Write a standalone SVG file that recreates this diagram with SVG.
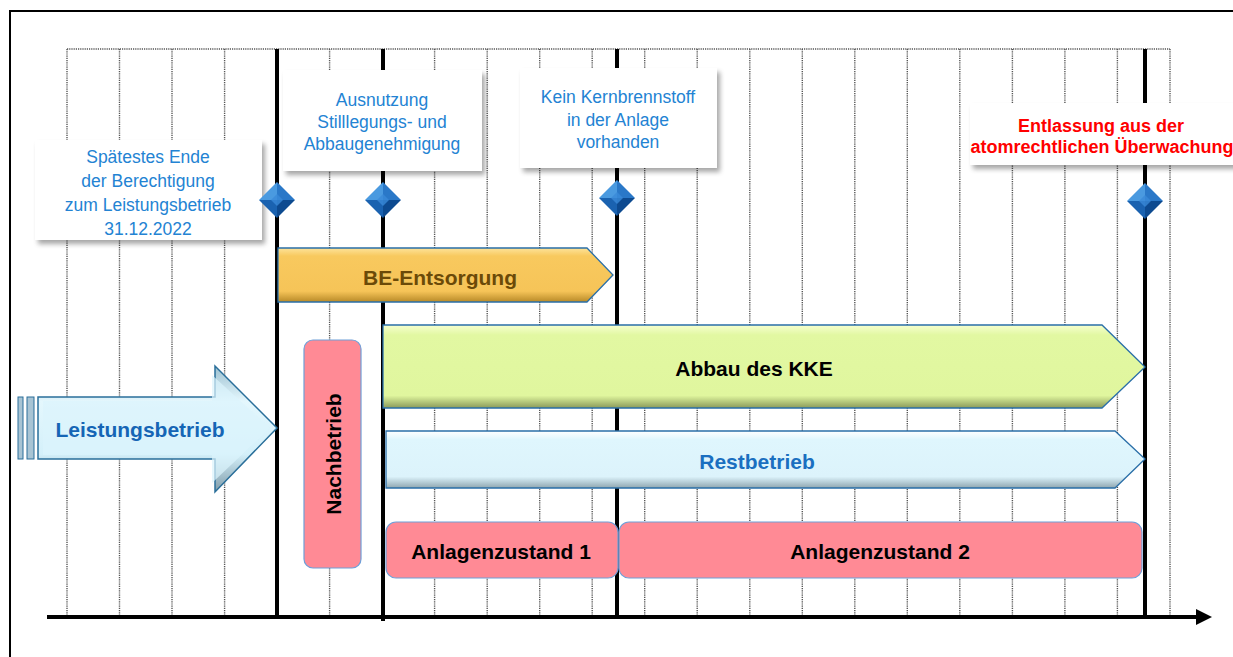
<svg xmlns="http://www.w3.org/2000/svg" width="1233" height="657" viewBox="0 0 1233 657">
<style>
.grid{stroke:#555;stroke-width:1.4;stroke-dasharray:1.2 1;fill:none}
.thick{stroke:#000;stroke-width:4}
.call{fill:#fff;filter:url(#sh)}
.ct{font-family:"Liberation Sans",Arial,sans-serif;font-size:17.5px;fill:#2383d3;text-anchor:middle}
.rt{font-family:"Liberation Sans",Arial,sans-serif;font-size:18px;font-weight:bold;fill:#ff0000;text-anchor:middle}
.bt{font-family:"Liberation Sans",Arial,sans-serif;font-size:21px;font-weight:bold;text-anchor:middle;dominant-baseline:central}
.pink{fill:#ff8a95;stroke:#6f9fd8;stroke-width:1.2}
</style>
<defs>
<filter id="sh" x="-10%" y="-20%" width="130%" height="150%">
<feGaussianBlur in="SourceAlpha" stdDeviation="2.5"/>
<feOffset dx="3" dy="4" result="b"/>
<feComponentTransfer><feFuncA type="linear" slope="0.35"/></feComponentTransfer>
<feMerge><feMergeNode/><feMergeNode in="SourceGraphic"/></feMerge>
</filter>
<linearGradient id="gBE" x1="0" y1="0" x2="0" y2="1">
<stop offset="0" stop-color="#fde39a"/><stop offset="0.15" stop-color="#f8c95e"/><stop offset="0.8" stop-color="#f6c458"/><stop offset="1" stop-color="#b88a28"/>
</linearGradient>
<linearGradient id="gGr" x1="0" y1="0" x2="0" y2="1">
<stop offset="0" stop-color="#f6ffd0"/><stop offset="0.12" stop-color="#e2f8a2"/><stop offset="0.85" stop-color="#e0f69e"/><stop offset="1" stop-color="#8a9a5a"/>
</linearGradient>
<linearGradient id="gRe" x1="0" y1="0" x2="0" y2="1">
<stop offset="0" stop-color="#ffffff"/><stop offset="0.15" stop-color="#dff6fd"/><stop offset="0.8" stop-color="#dcf3fb"/><stop offset="1" stop-color="#8fa6b0"/>
</linearGradient>
<linearGradient id="gLe" x1="0" y1="0" x2="0" y2="1">
<stop offset="0" stop-color="#9cc0d0"/><stop offset="0.28" stop-color="#e4f7fd"/><stop offset="0.7" stop-color="#d4f0fa"/><stop offset="1" stop-color="#7e9aa8"/>
</linearGradient>
<g id="dia">
<polygon points="0,-18 -18,0 0,0" fill="#4a9ae0"/>
<polygon points="0,-18 18,0 0,0" fill="#2a78c8"/>
<polygon points="-18,0 0,18 0,0" fill="#1a62b0"/>
<polygon points="18,0 0,18 0,0" fill="#0d4a90"/>
<polygon points="0,-6 -6,0 0,6 6,0" fill="#3a8ad8" opacity="0.8"/>
</g>
</defs>
<rect width="1233" height="657" fill="#fff"/>
<g id="frame" stroke="#000" stroke-width="2" fill="none">
<line x1="9" y1="11" x2="1233" y2="11"/>
<line x1="10" y1="11" x2="10" y2="657"/>
</g>
<g id="grid">
<line class="grid" x1="67" y1="49" x2="1170" y2="49"/>
<line class="grid" x1="67" y1="49" x2="67" y2="617"/>
<line class="grid" x1="119.5" y1="49" x2="119.5" y2="617"/>
<line class="grid" x1="172" y1="49" x2="172" y2="617"/>
<line class="grid" x1="224.6" y1="49" x2="224.6" y2="617"/>
<line class="grid" x1="329.6" y1="49" x2="329.6" y2="617"/>
<line class="grid" x1="434.6" y1="49" x2="434.6" y2="617"/>
<line class="grid" x1="487.2" y1="49" x2="487.2" y2="617"/>
<line class="grid" x1="539.7" y1="49" x2="539.7" y2="617"/>
<line class="grid" x1="592.2" y1="49" x2="592.2" y2="617"/>
<line class="grid" x1="644.7" y1="49" x2="644.7" y2="617"/>
<line class="grid" x1="697.2" y1="49" x2="697.2" y2="617"/>
<line class="grid" x1="749.8" y1="49" x2="749.8" y2="617"/>
<line class="grid" x1="802.3" y1="49" x2="802.3" y2="617"/>
<line class="grid" x1="854.8" y1="49" x2="854.8" y2="617"/>
<line class="grid" x1="907.3" y1="49" x2="907.3" y2="617"/>
<line class="grid" x1="959.8" y1="49" x2="959.8" y2="617"/>
<line class="grid" x1="1012.4" y1="49" x2="1012.4" y2="617"/>
<line class="grid" x1="1064.9" y1="49" x2="1064.9" y2="617"/>
<line class="grid" x1="1117.4" y1="49" x2="1117.4" y2="617"/>
<line class="grid" x1="1170" y1="49" x2="1170" y2="617"/>
<line class="thick" x1="277" y1="49" x2="277" y2="617"/>
<line class="thick" x1="383" y1="49" x2="383" y2="621"/>
<line class="thick" x1="617" y1="49" x2="617" y2="617"/>
<line class="thick" x1="1145" y1="49" x2="1145" y2="617"/>
</g>
<g id="axis">
<line x1="47" y1="617" x2="1196" y2="617" stroke="#000" stroke-width="4"/>
<polygon points="1196,609 1212,617 1196,625" fill="#000"/>
</g>
<g id="callout1">
<rect class="call" x="35" y="140" width="227" height="100"/>
<text class="ct" x="148" y="163">Spätestes Ende</text>
<text class="ct" x="148" y="187">der Berechtigung</text>
<text class="ct" x="148" y="211">zum Leistungsbetrieb</text>
<text class="ct" x="148" y="235">31.12.2022</text>
</g>
<g id="callout2">
<rect class="call" x="283" y="70" width="199" height="101"/>
<text class="ct" x="382" y="106">Ausnutzung</text>
<text class="ct" x="382" y="128">Stilllegungs- und</text>
<text class="ct" x="382" y="150">Abbaugenehmigung</text>
</g>
<g id="callout3">
<rect class="call" x="520" y="68" width="197" height="100"/>
<text class="ct" x="618" y="103">Kein Kernbrennstoff</text>
<text class="ct" x="618" y="126">in der Anlage</text>
<text class="ct" x="618" y="148">vorhanden</text>
</g>
<g id="callout4">
<rect class="call" x="970" y="103" width="275" height="62"/>
<text class="rt" x="1101" y="132">Entlassung aus der</text>
<text class="rt" x="1102" y="153">atomrechtlichen Überwachung</text>
</g>
<g id="milestones">
<use href="#dia" x="277" y="200"/>
<use href="#dia" x="383" y="200"/>
<use href="#dia" x="617" y="198"/>
<use href="#dia" x="1145" y="201"/>
</g>
<g id="leistungsbetrieb">
<rect x="18" y="397" width="5" height="62" fill="#a8c4d4" stroke="#2a6f9a" stroke-width="1"/>
<rect x="27" y="397" width="7" height="62" fill="#a8c4d4" stroke="#2a6f9a" stroke-width="1"/>
<polygon points="38,397 215,397 215,366 277,428 215,492 215,459 38,459" fill="url(#gLe)" stroke="#2a6f9a" stroke-width="1.5"/>
<polygon points="43,401 212,401 212,375 270,428 212,483 212,455 43,455" fill="#dcf4fc" opacity="0.7"/>
<text class="bt" x="140" y="429" fill="#1565b5" font-size="22">Leistungsbetrieb</text>
</g>
<g id="be-entsorgung">
<polygon points="278,248 587,248 613,275 587,302 278,302" fill="url(#gBE)" stroke="#2a6fa8" stroke-width="1.3"/>
<text class="bt" x="440" y="277" fill="#6b4a08">BE-Entsorgung</text>
</g>
<g id="nachbetrieb">
<rect class="pink" x="304" y="340" width="57" height="228" rx="9"/>
<text class="bt" transform="translate(333,454) rotate(-90)" x="0" y="0" fill="#000">Nachbetrieb</text>
</g>
<g id="abbau">
<polygon points="383,325 1102,325 1145,367 1102,408 383,408" fill="url(#gGr)" stroke="#2a6fa8" stroke-width="1.3"/>
<text class="bt" x="754" y="368" fill="#000">Abbau des KKE</text>
</g>
<g id="restbetrieb">
<polygon points="386,431 1115,431 1145,459 1115,488 386,488" fill="url(#gRe)" stroke="#2a6fa8" stroke-width="1.3"/>
<text class="bt" x="757" y="461" fill="#1a6fc0">Restbetrieb</text>
</g>
<g id="anlagenzustand1">
<rect class="pink" x="386" y="522" width="232" height="56" rx="10"/>
<text class="bt" x="501" y="551" fill="#000">Anlagenzustand 1</text>
</g>
<g id="anlagenzustand2">
<rect class="pink" x="619" y="522" width="523" height="56" rx="10"/>
<text class="bt" x="880" y="551" fill="#000">Anlagenzustand 2</text>
</g>
</svg>
